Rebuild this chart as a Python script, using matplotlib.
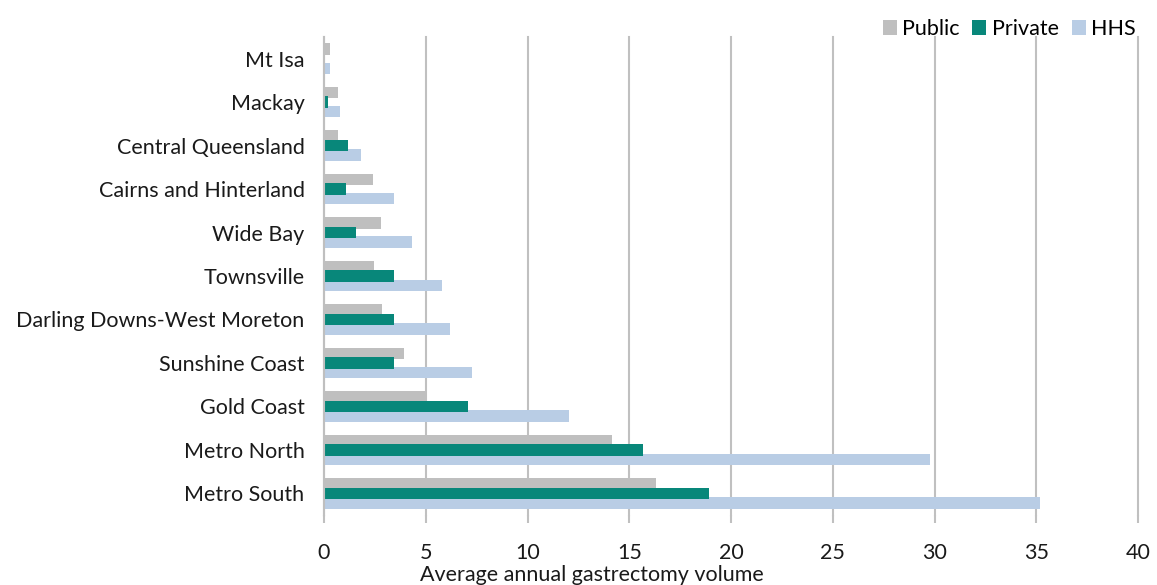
import matplotlib
matplotlib.use("Agg")
import matplotlib.pyplot as plt
import numpy as np

categories = ["Mt Isa", "Mackay", "Central Queensland", "Cairns and Hinterland", "Wide Bay",
              "Townsville", "Darling Downs-West Moreton", "Sunshine Coast", "Gold Coast",
              "Metro North", "Metro South"]
public = [0.31, 0.69, 0.69, 2.43, 2.82, 2.44, 2.83, 3.94, 5.06, 14.17, 16.3]
private = [0.0, 0.2, 1.18, 1.06, 1.56, 3.45, 3.45, 3.45, 7.06, 15.69, 18.92]
hhs = [0.31, 0.8, 1.8, 3.42, 4.31, 5.8, 6.2, 7.29, 12.04, 29.8, 35.17]
series_names = ["Public", "Private", "HHS"]
colors = ["#bfbfbf", "#08877a", "#b9cde5"]
xticks = [0, 5, 10, 15, 20, 25, 30, 35, 40]
xlabel = "Average annual gastrectomy volume"

plt.rcParams['font.family'] = ['Lato', 'DejaVu Sans']
FS = 15.5
TC = "#1a1a1a"

fig = plt.figure(figsize=(11.57, 5.85), dpi=100)
ax = fig.add_axes([324 / 1157, 1 - 515 / 585, (1138 - 324) / 1157, (515 - 37) / 585])

y = np.arange(len(categories))
h = 0.265
off = 0.22
ax.barh(y - off, public, height=h, color=colors[0], label=series_names[0], zorder=2)
ax.barh(y + off, hhs, height=h, color=colors[2], label=series_names[2], zorder=3)
ax.barh(y, private, height=h, color=colors[1], label=series_names[1], zorder=4)

ax.set_ylim(len(categories) - 0.5, -0.5)
ax.set_xlim(0, 40)
ax.set_yticks(y)
ax.set_yticklabels(categories, fontsize=FS, color=TC)
ax.set_xticks(xticks)
ax.set_xticklabels([str(t) for t in xticks], fontsize=FS, color=TC)
ax.grid(axis="x", color="#c0c0c0", linewidth=1.5, zorder=0)
for gl in ax.get_xgridlines():
    gl.set_clip_on(False)
ax.set_axisbelow(True)
for s in ["top", "right", "bottom"]:
    ax.spines[s].set_visible(False)
ax.spines["left"].set_color("#bfbfbf")
ax.spines["left"].set_linewidth(1.5)
ax.spines["left"].set_zorder(5)
ax.tick_params(axis="y", length=0, pad=14)
ax.tick_params(axis="x", length=6, color="#c0c0c0", width=1.5, pad=14)

fig.text(592 / 1157, 1 - 575 / 585, xlabel, fontsize=FS, color=TC, ha="center", va="center")

handles, labels = ax.get_legend_handles_labels()
order = [labels.index(n) for n in series_names]
leg = fig.legend([handles[i] for i in order], [labels[i] for i in order],
                 loc="upper right", bbox_to_anchor=(1153 / 1157, 1 - 2 / 585), ncol=3,
                 frameon=False, fontsize=FS, handlelength=0.65, handleheight=0.65,
                 handletextpad=0.25, columnspacing=0.6, borderpad=0.3)

fig.savefig("out.png", dpi=100)
